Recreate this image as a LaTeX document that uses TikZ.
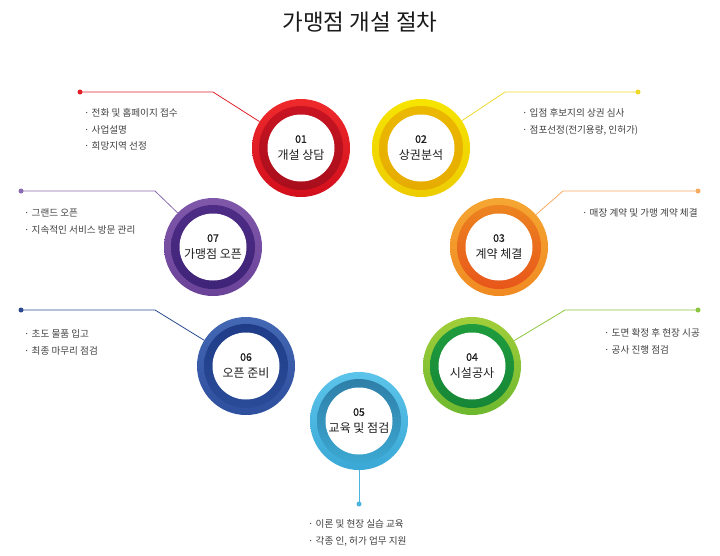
\documentclass[tikz,border=0pt]{standalone}
\usepackage{fontspec}
\setmainfont{Noto Sans CJK KR}
\begin{document}
\begin{tikzpicture}[x=1pt,y=-1pt,
  ringnode/.style={circle,minimum size=98pt,inner sep=0pt},
  lbl/.style={align=center,text=black!88,font=\fontsize{12}{17}\selectfont},
  bul/.style={anchor=west,inner sep=0pt,text=black!75,font=\fontsize{9.6}{10}\selectfont},
  dotc/.style={circle,inner sep=0pt,minimum size=5pt},
  conn/.style={line width=0.8pt}]
\useasboundingbox (0,0) rectangle (720,555);
\definecolor{redA}{HTML}{EE2A2C}\definecolor{redB}{HTML}{D20F1C}\definecolor{redC}{HTML}{C91422}\definecolor{redD}{HTML}{A80E1C}\definecolor{redL}{HTML}{E02028}
\definecolor{yelA}{HTML}{F6E400}\definecolor{yelB}{HTML}{EDCC00}\definecolor{yelC}{HTML}{EBB800}\definecolor{yelD}{HTML}{E6AC00}\definecolor{yelL}{HTML}{F0D82A}
\definecolor{oraA}{HTML}{F5A632}\definecolor{oraB}{HTML}{F08A22}\definecolor{oraC}{HTML}{EC8420}\definecolor{oraD}{HTML}{E8561A}\definecolor{oraL}{HTML}{F6AA62}
\definecolor{greA}{HTML}{A2CE3A}\definecolor{greB}{HTML}{6DB82E}\definecolor{greC}{HTML}{1F9C3E}\definecolor{greD}{HTML}{168636}\definecolor{greL}{HTML}{8CC63E}
\definecolor{cyaA}{HTML}{5CC4EA}\definecolor{cyaB}{HTML}{3AA8D6}\definecolor{cyaC}{HTML}{2E7FA8}\definecolor{cyaD}{HTML}{3CA8D2}\definecolor{cyaL}{HTML}{4AB4DC}
\definecolor{bluA}{HTML}{4468B4}\definecolor{bluB}{HTML}{2E4E9E}\definecolor{bluC}{HTML}{1F3C88}\definecolor{bluD}{HTML}{2A4C98}\definecolor{bluL}{HTML}{2A4A90}
\definecolor{purA}{HTML}{8058AA}\definecolor{purB}{HTML}{6A4298}\definecolor{purC}{HTML}{4E2C86}\definecolor{purD}{HTML}{3E2478}\definecolor{purL}{HTML}{8A6AB0}

% title
\node[font=\fontsize{22.5}{26}\selectfont,text=black!90] (title) at (360,22) {가맹점 개설 절차};

% circles
\newcommand{\ringdraw}[6]{%
  \node[ringnode] (#1) at (#2) {};
  \shade[top color=#3,bottom color=#4] (#1.center) circle[radius=49];
  \shade[top color=#5,bottom color=#6] (#1.center) circle[radius=42];
  \fill[white] (#1.center) circle[radius=33.5];
}
\newcommand{\stepnum}[1]{{\fontsize{10.5}{17}\selectfont\addfontfeatures{FakeBold=1}#1}}
\ringdraw{c1}{301,148}{redA}{redB}{redC}{redD}
\ringdraw{c2}{421,148}{yelA}{yelB}{yelC}{yelD}
\ringdraw{c3}{499,247}{oraA}{oraB}{oraC}{oraD}
\ringdraw{c4}{472,366}{greA}{greB}{greC}{greD}
\ringdraw{c5}{359,421}{cyaA}{cyaB}{cyaC}{cyaD}
\ringdraw{c6}{246,366}{bluA}{bluB}{bluC}{bluD}
\ringdraw{c7}{213,247}{purA}{purB}{purC}{purD}

\node[lbl] (l1) at (c1.center) {\stepnum{01}\\개설 상담};
\node[lbl] (l2) at (c2.center) {\stepnum{02}\\상권분석};
\node[lbl] (l3) at (c3.center) {\stepnum{03}\\계약 체결};
\node[lbl] (l4) at (c4.center) {\stepnum{04}\\시설공사};
\node[lbl] (l5) at (c5.center) {\stepnum{05}\\교육 및 점검};
\node[lbl] (l6) at (c6.center) {\stepnum{06}\\오픈 준비};
\node[lbl] (l7) at (c7.center) {\stepnum{07}\\가맹점 오픈};

% connectors
\node[dotc,fill=redL] (d1) at (80,92) {};
\coordinate (b1) at (213,92);
\draw[conn,redL] (d1.center) -- (b1) -- (c1);
\node[dotc,fill=yelL] (d2) at (638,92) {};
\coordinate (b2) at (505,92);
\draw[conn,yelL] (d2.center) -- (b2) -- (c2);
\node[dotc,fill=oraL] (d3) at (698,191) {};
\coordinate (b3) at (563,191);
\draw[conn,oraL] (d3.center) -- (b3) -- (c3);
\node[dotc,fill=greL] (d4) at (698,310) {};
\coordinate (b4) at (565,310);
\draw[conn,greL] (d4.center) -- (b4) -- (c4);
\node[dotc,fill=cyaL] (d5) at (359,504) {};
\draw[conn,cyaL] (c5) -- (d5.center);
\node[dotc,fill=bluL] (d6) at (21,310) {};
\coordinate (b6) at (155,310);
\draw[conn,bluL] (d6.center) -- (b6) -- (c6);
\node[dotc,fill=purL] (d7) at (21,191) {};
\coordinate (b7) at (155,191);
\draw[conn,purL] (d7.center) -- (b7) -- (c7);

% bullet texts
\node[bul] (t1a) at (84,113) {· 전화 및 홈페이지 접수};
\node[bul] (t1b) at (84,130) {· 사업설명};
\node[bul] (t1c) at (84,146) {· 희망지역 선정};
\node[bul] (t2a) at (522,113) {· 입점 후보지의 상권 심사};
\node[bul] (t2b) at (522,130) {· 점포선정(전기용량, 인허가)};
\node[bul] (t3a) at (582,213) {· 매장 계약 및 가맹 계약 체결};
\node[bul] (t4a) at (604,333) {· 도면 확정 후 현장 시공};
\node[bul] (t4b) at (604,350) {· 공사 진행 점검};
\node[bul] (t5a) at (308,524) {· 이론 및 현장 실습 교육};
\node[bul] (t5b) at (308,541) {· 각종 인, 허가 업무 지원};
\node[bul] (t6a) at (24,334) {· 초도 물품 입고};
\node[bul] (t6b) at (24,351) {· 최종 마무리 점검};
\node[bul] (t7a) at (24,213) {· 그랜드 오픈};
\node[bul] (t7b) at (24,230) {· 지속적인 서비스 방문 관리};
\end{tikzpicture}
\end{document}
